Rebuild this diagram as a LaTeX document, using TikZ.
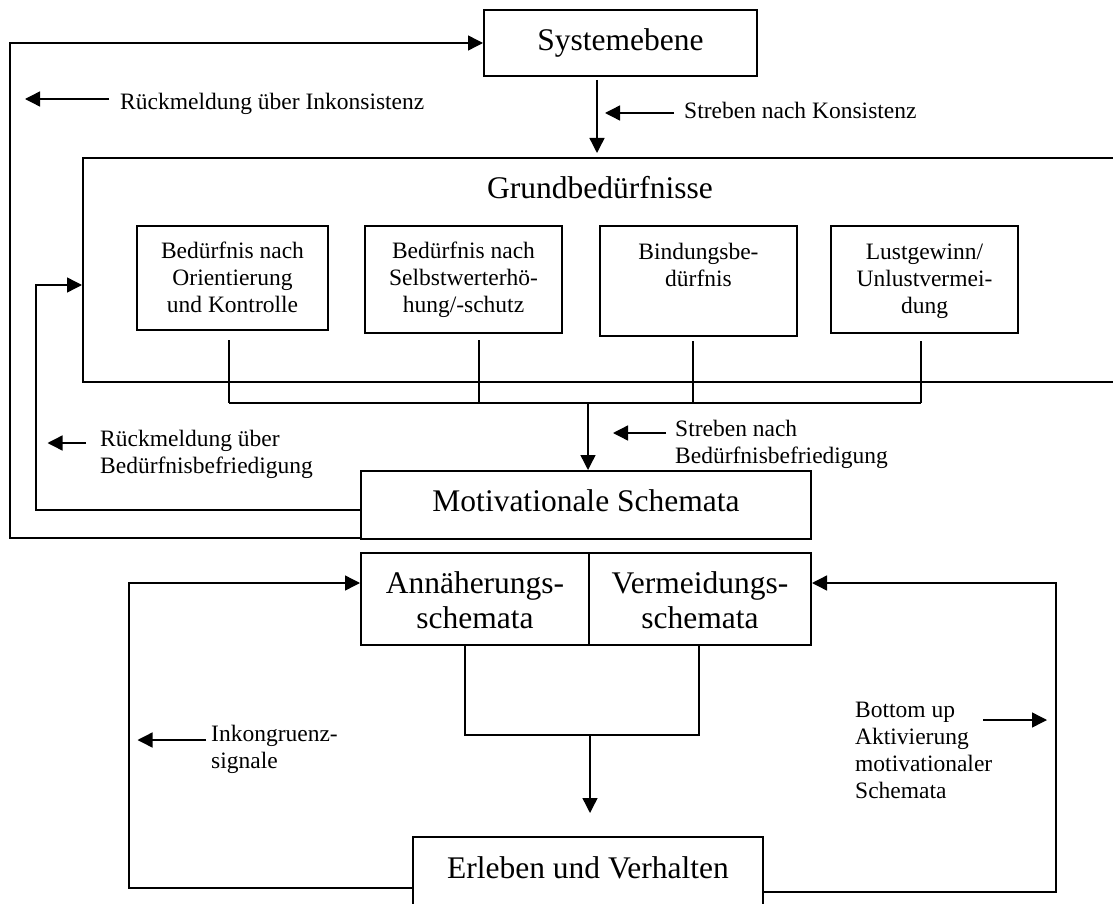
\documentclass[tikz,border=0pt]{standalone}
\usepackage{fontspec}
\setmainfont{Liberation Serif}
\usetikzlibrary{arrows.meta,calc}

\begin{document}
\begin{tikzpicture}[x=1pt,y=-1pt,
  box/.style={draw, line width=2pt, inner sep=0pt, align=flush center, anchor=north west},
  big/.style={font=\fontsize{31.5}{35}\selectfont},
  small/.style={font=\fontsize{23.5}{27}\selectfont},
  conn/.style={line width=1.4pt},
  arr/.style={conn, -{Triangle[length=15pt,width=15pt]}},
  lbl/.style={small, align=left, anchor=base west, inner sep=0pt},
]
\clip (0,0) rectangle (1113,904);

% boxes
\node[box, big, text width=273pt, text height=41pt, text depth=25pt] (sys) at (483,9) {Systemebene};
\node[box, big, text width=1034pt, text height=41pt, text depth=183pt] (grund) at (82,157) {Grundbedürfnisse};
\node[box, small, text width=191pt, text height=32pt, text depth=72pt] (b1) at (136,225) {Bedürfnis nach\\Orientierung\\und Kontrolle};
\node[box, small, text width=197pt, text height=32pt, text depth=75pt] (b2) at (364,225) {Bedürfnis nach\\Selbstwerterhö-\\hung/-schutz};
\node[box, small, text width=197pt, text height=33pt, text depth=77pt] (b3) at (599,225) {Bindungsbe-\\dürfnis};
\node[box, small, text width=187pt, text height=33pt, text depth=74pt] (b4) at (830,225) {Lustgewinn/\\Unlustvermei-\\dung};
\node[box, big, text width=450pt, text height=40pt, text depth=28pt] (mot) at (360,470) {Motivationale Schemata};
\node[box, big, text width=228pt, text height=40pt, text depth=52pt] (ann) at (360,552) {Annäherungs-\\schemata};
\node[box, big, text width=222pt, text height=40pt, text depth=52pt] (verm) at (588,552) {Vermeidungs-\\schemata};
\node[box, big, text width=350pt, text height=41pt, text depth=40pt] (erl) at (412,836) {Erleben und Verhalten};

% labels (anchored at the baseline of their last line)
\node[lbl] (t1) at (120,110) {Rückmeldung über Inkonsistenz};
\node[lbl] (t2) at (684,119) {Streben nach Konsistenz};
\node[lbl] (t3) at (675,463) {Streben nach\\Bedürfnisbefriedigung};
\node[lbl] (t4) at (100,473) {Rückmeldung über\\Bedürfnisbefriedigung};
\node[lbl] (t5) at (211,768) {Inkongruenz-\\signale};
\node[lbl] (t6) at (855,798) {Bottom up\\Aktivierung\\motivationaler\\Schemata};

% junction points
\coordinate (busA) at (229,403);
\coordinate (busB) at (479,403);
\coordinate (busC) at (693,403);
\coordinate (busD) at (921,403);
\coordinate (busM) at (588,403);
\coordinate (jL) at (465,735);
\coordinate (jR) at (699,735);
\coordinate (jM) at (590,735);

% feedback loops
\draw[arr] ([yshift=2pt]mot.south west) -- ++(-350,0) |- (sys.west);
\draw[arr] ([yshift=-5pt]mot.west) -- ++(-324,0) |- ([yshift=-15pt]grund.west);
\draw[arr] ([yshift=-10.5pt]erl.west) -- ++(-283,0) |- ([yshift=16pt]ann.west);
\draw[arr] ([yshift=-14.5pt]erl.east) -- ++(292,0) |- ([yshift=16pt]verm.east);

% downward flow
\draw[arr, shorten <=3pt, shorten >=4pt] ([xshift=-23.5pt]sys.south) -- ([xshift=-23.5pt]sys.south |- grund.north);
\draw[conn, shorten <=9pt] (busA |- b1.south) -- (busA);
\draw[conn, shorten <=6pt] (busB |- b2.south) -- (busB);
\draw[conn, shorten <=4pt] (busC |- b3.south) -- (busC);
\draw[conn, shorten <=7pt] (busD |- b4.south) -- (busD);
\draw[conn] (busA) -- (busD);
\draw[arr] (busM) -- (busM |- mot.north);
\draw[conn] (jL |- ann.south) -- (jL) -- (jR) -- (jR |- verm.south);
\draw[arr, shorten >=23pt] (jM) -- (jM |- erl.north);

% label arrows
\coordinate (a1s) at (109,99);   \coordinate (a1e) at (25,99);
\coordinate (a2s) at (674,113);  \coordinate (a2e) at (605,113);
\coordinate (a3s) at (666,433);  \coordinate (a3e) at (613,433);
\coordinate (a4s) at (86,443);   \coordinate (a4e) at (47.5,443);
\coordinate (a5s) at (206,740);  \coordinate (a5e) at (137.5,740);
\coordinate (a6s) at (983,720);  \coordinate (a6e) at (1047,720);
\draw[arr] (a1s) -- (a1e);
\draw[arr] (a2s) -- (a2e);
\draw[arr] (a3s) -- (a3e);
\draw[arr] (a4s) -- (a4e);
\draw[arr] (a5s) -- (a5e);
\draw[arr] (a6s) -- (a6e);
\end{tikzpicture}
\end{document}
